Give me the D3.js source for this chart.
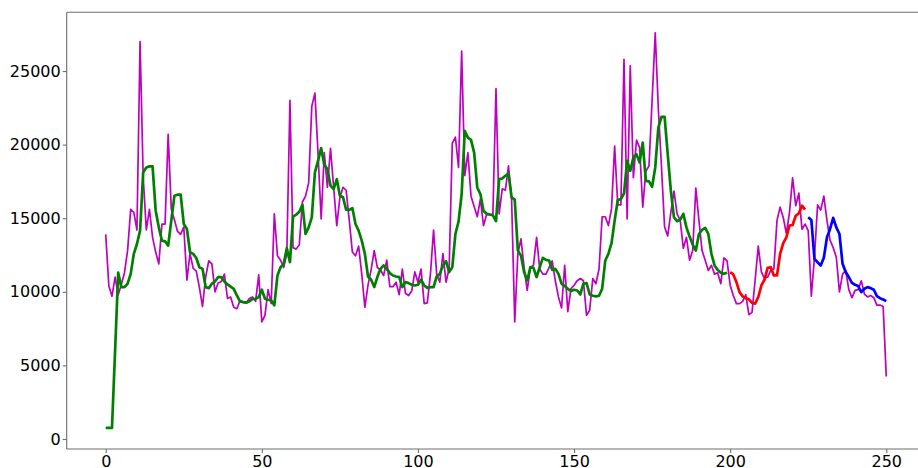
<!DOCTYPE html>
<html>
<head>
<meta charset="utf-8">
<script src="https://cdn.jsdelivr.net/npm/d3@7"></script>
<style>
  html, body { margin: 0; padding: 0; background: #fff; }
  svg { display: block; }
  .tick text { font-family: "DejaVu Sans", sans-serif; font-size: 16px; fill: #000; }
</style>
</head>
<body>
<svg id="chart" width="918" height="468"></svg>
<script>
// ---- data ----
const actual = [
  13900,10400,9700,11000,9800,10500,11300,12800,15600,15400,
  14200,27000,17800,14200,15600,13700,12700,11900,14600,14600,
  20700,15600,14900,14100,13900,14400,10800,12600,11600,11400,
  10300,9000,11000,12100,11900,10000,10600,10700,11200,9550,
  9650,8950,8850,9400,9300,9250,9550,9650,9350,11150,
  7950,8400,10150,9200,15300,12450,12150,11650,12600,23000,
  13000,12900,13200,16100,16500,17400,22600,23500,19400,14950,
  19450,17100,19750,17100,14500,16400,17100,16900,14850,12700,
  12450,13100,11200,8950,10450,11500,12800,11650,11500,11100,
  12150,10350,10350,10650,9800,11550,9900,9750,10050,11350,
  10650,11550,9200,9250,11200,14200,11200,10650,12600,10650,
  11600,20100,20500,18450,26350,17900,19450,16500,15800,15100,
  16300,14500,15250,15250,15250,23800,15300,17000,16900,18550,
  16300,7950,12600,13600,11650,10100,11650,11800,13700,11550,
  11200,11200,11650,12100,10750,9650,8900,11800,8650,10200,
  10450,10750,10900,10750,8400,8750,10900,10550,11550,15100,
  15100,14500,15650,19900,15900,15900,25800,14950,25350,17750,
  20300,19800,15750,18200,18550,23000,27600,22400,18500,14400,
  13800,15400,16850,15300,14850,12950,13700,12150,12800,17050,
  14850,12800,12150,11450,11800,11200,11300,10550,12300,12100,
  10450,9750,9200,9200,9350,9800,8450,8600,10800,13100,
  11350,10900,11000,11450,11550,14850,15750,15050,13950,15400,
  17750,15850,16700,14250,14600,14150,9700,12350,15900,15550,
  16500,14850,13500,13000,12350,10000,11200,11450,10150,9600,
  10100,10150,10750,9850,9650,9750,9600,9100,9100,9000,
  4250
];
const fittedStart = 0;
const fitted = [
  750,750,750,6000,11300,10320,10320,10550,11220,12580,
  13250,14160,18110,18450,18520,18520,15510,14380,13480,13430,
  13140,14840,16530,16600,16600,14610,14270,12690,12580,12300,
  11670,11560,10320,10250,10550,10700,11000,11000,10700,10500,
  10350,10200,9750,9350,9300,9260,9350,9510,9530,9640,
  10140,9530,9460,9420,9080,11110,11670,11900,12960,12010,
  15110,15240,15440,15920,13930,14380,15060,18110,18900,19760,
  18630,18340,17210,16980,17660,16530,16420,15580,15560,15690,
  14610,14160,13480,12580,11040,10820,10320,11000,11560,11790,
  11560,11270,11110,11040,11000,10320,10660,10590,10480,10430,
  10480,10820,10430,10270,10320,10320,11040,11220,11790,12080,
  11340,11670,13930,14770,16640,20930,20480,20320,19460,17090,
  16640,15510,15300,15250,15200,14800,17660,17700,17880,18040,
  16420,16260,12800,12460,11340,10770,11670,11630,11000,11670,
  12310,12170,12130,11490,11560,11220,10550,10390,10210,10050,
  10140,10090,9820,10550,10590,9820,9730,9690,9730,10210,
  12130,12580,13300,14840,16240,16300,16690,18900,18220,19120,
  19350,18790,20140,17540,17500,17140,18450,21160,21880,21880,
  19350,16870,15060,14800,14900,15300,14380,13750,13210,12800,
  13930,14200,14340,13930,12580,11790,11490,11290,11220,11300
];
const redStart = 200;
const redSeries = [
  11340,11180,10660,9980,9690,9570,9490,9240,9190,9640,
  10430,10820,11630,11670,11110,11110,12580,13300,13700,14500,
  14540,15170,15330,15850,15580
];
const blueStart = 225;
const blueSeries = [
  15060,14880,12240,12010,11790,12310,13700,14270,15020,14380,
  13930,11900,11340,11000,10610,10480,10390,9980,10210,10320,
  10250,10140,9710,9570,9480,9370
];
const xTicks = [0, 50, 100, 150, 200, 250];
const yTicks = [0, 5000, 10000, 15000, 20000, 25000];

// ---- layout ----
const plotLeft = 66.7, plotRight = 925.3, plotTop = 12.3, plotBottom = 449;
const svg = d3.select("#chart");

const x = d3.scaleLinear().domain([-12.5, 262.5]).range([plotLeft, plotRight]);
const y = d3.scaleLinear().domain([-680, 28990]).range([plotBottom, plotTop]);

const spineColor = "#6e6e6e";

// axes
const yAxis = d3.axisLeft(y).tickValues(yTicks).tickSize(4).tickPadding(2).tickFormat(d3.format("d"));
const xAxis = d3.axisBottom(x).tickValues(xTicks).tickSize(4).tickPadding(2.8).tickFormat(d3.format("d"));

const gy = svg.append("g").attr("transform", `translate(${plotLeft},0)`).call(yAxis);
const gx = svg.append("g").attr("transform", `translate(0,${plotBottom})`).call(xAxis);
[gx, gy].forEach(g => {
  g.select(".domain").remove();
  g.selectAll(".tick line").attr("stroke", spineColor).attr("stroke-width", 1.1);
  g.selectAll(".tick text").attr("fill", "#000");
});

// lines
const lineGen = (offset) => d3.line()
  .x((d, i) => x(i + offset))
  .y(d => y(d));

function drawLine(data, offset, color, width) {
  svg.append("path")
    .datum(data)
    .attr("d", lineGen(offset))
    .attr("fill", "none")
    .attr("stroke", color)
    .attr("stroke-width", width)
    .attr("stroke-linejoin", "round")
    .attr("stroke-linecap", "butt");
}

drawLine(actual, 0, "#bf00bf", 1.7);
drawLine(fitted, fittedStart, "#008000", 2.7);
drawLine(redSeries, redStart, "#ff0000", 2.7);
drawLine(blueSeries, blueStart, "#0000ff", 2.7);

// spines
const spines = svg.append("g").attr("stroke", spineColor).attr("stroke-width", 1.1).attr("fill", "none");
spines.append("line").attr("x1", plotLeft).attr("x2", plotLeft).attr("y1", plotTop).attr("y2", plotBottom);
spines.append("line").attr("x1", plotLeft).attr("x2", plotRight).attr("y1", plotBottom).attr("y2", plotBottom);
spines.append("line").attr("x1", plotLeft).attr("x2", plotRight).attr("y1", plotTop).attr("y2", plotTop);
spines.append("line").attr("x1", plotRight).attr("x2", plotRight).attr("y1", plotTop).attr("y2", plotBottom);
</script>
</body>
</html>
